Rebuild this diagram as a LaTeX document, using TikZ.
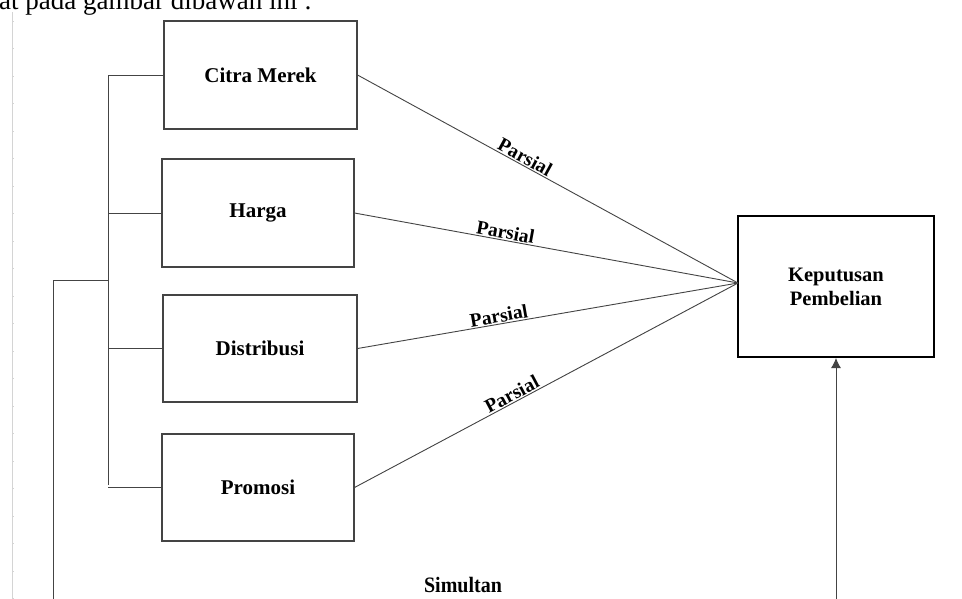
\documentclass[tikz,border=0pt]{standalone}
\usepackage{fontspec}
\setmainfont{Liberation Serif}
\usetikzlibrary{arrows.meta}
\definecolor{linegray}{HTML}{444444}
\definecolor{rulegray}{HTML}{D4D4D4}
\tikzset{
  varbox/.style={draw=linegray, line width=1.1pt, minimum width=#1, minimum height=107pt, inner sep=0pt,
    font=\fontsize{21}{25}\selectfont\bfseries},
  conn/.style={draw=linegray, line width=0.9pt},
  parlabel/.style={font=\fontsize{19.5}{21}\selectfont\bfseries, sloped, above, inner sep=1pt},
}
\begin{document}
\begin{tikzpicture}[x=1pt,y=-1pt]
\useasboundingbox (0,0) rectangle (962,598);
\clip (0,0) rectangle (962,598);
\fill[white] (0,0) rectangle (962,598);
% cut-off text above
\node[anchor=base west, inner sep=0pt, font=\fontsize{27}{30}\selectfont] (toptext) at (-1,9) {at pada gambar dibawah ini :};
% page ruler line
\draw[rulegray, line width=0.8pt] (12.5,12) -- (12.5,600);
\foreach \yy in {21.5,48.5,76,103.5,131,158.5,186,213.5,241,268.5,296,323.5,351,378.5,406,433.5,461,488.5,516,543.5,571,598.5}
  \draw[rulegray, line width=0.5pt] (12.5,\yy) -- (14,\yy);
% boxes
\node[varbox=193pt, minimum height=108pt] (citra) at (260.5,75) {Citra Merek};
\node[varbox=192pt, minimum height=108pt] (harga) at (258,213) {Harga};
\node[varbox=194pt] (distribusi) at (260,348.5) {Distribusi};
\node[varbox=192pt] (promosi) at (258,487.5) {Promosi};
\node[draw=black, line width=2pt, minimum width=196pt, minimum height=141pt, align=center,
  font=\fontsize{20.5}{24}\selectfont\bfseries] (kp) at (836,286.5) {Keputusan\\Pembelian};
\coordinate (conv) at (738,283);
% parsial connectors
\draw[conn] (citra.east) -- node[parlabel, pos=0.43] {Parsial} (conv);
\draw[conn] (harga.east) -- node[parlabel, pos=0.39] {Parsial} (conv);
\draw[conn] (distribusi.east) -- node[parlabel, pos=0.375] {Parsial} (conv);
\draw[conn] (promosi.east) -- node[parlabel, pos=0.42] {Parsial} (conv);
% bracket
\coordinate (brk) at (108,0);
\draw[conn] (citra.west -| brk) -- ([yshift=3pt]promosi.west -| brk);
\draw[conn] (citra.west) -- (citra.west -| brk);
\draw[conn] (harga.west) -- (harga.west -| brk);
\draw[conn] (distribusi.west) -- (distribusi.west -| brk);
\draw[conn] (promosi.west) -- (promosi.west -| brk);
% simultan path
\coordinate (sj) at (108,280);
\coordinate (sl) at (53,280);
\coordinate (slb) at (53,605);
\coordinate (srb) at (836,605);
\draw[conn] (sj) -- (sl) -- (slb) -- (srb);
\draw[conn, -{Latex[length=10pt,width=10pt]}] (srb) -- (kp.south -| srb);
\node[font=\fontsize{20}{24}\selectfont\bfseries, inner sep=0pt, yscale=1.1] (simultan) at (463,585) {Simultan};
\end{tikzpicture}
\end{document}
